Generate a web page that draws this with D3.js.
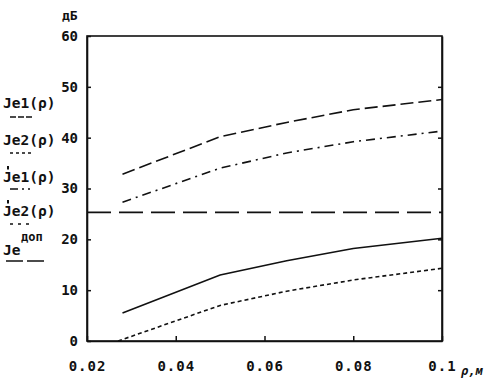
<!DOCTYPE html>
<html><head><meta charset="utf-8">
<script src="https://cdn.jsdelivr.net/npm/d3@7"></script>
<style>body{margin:0;background:#fff}svg{display:block}text{font-family:"DejaVu Sans Mono",monospace;font-weight:bold;fill:#111}</style>
</head><body><div id="c"></div>
<script>
// Data
const xTicks = [0.02, 0.04, 0.06, 0.08, 0.1];
const xTickLabels = ["0.02", "0.04", "0.06", "0.08", "0.1"];
const yTicks = [0, 10, 20, 30, 40, 50, 60];

const xLongDash = [0.028, 0.05, 0.065, 0.08, 0.1];
const yLongDash = [32.8, 40.2, 43.0, 45.5, 47.5];
const xDashDot = [0.028, 0.05, 0.065, 0.08, 0.1];
const yDashDot = [27.3, 34.0, 37.0, 39.2, 41.3];
const xSolid = [0.028, 0.05, 0.065, 0.08, 0.1];
const ySolid = [5.5, 13.0, 15.8, 18.2, 20.2];
const xDotted = [0.027, 0.05, 0.065, 0.08, 0.1];
const yDotted = [0.0, 7.0, 9.8, 12.0, 14.3];
const jeDop = 25.3;

const W = 498, H = 381;
const L = 87, R = 442, T = 36, B = 341;
const svg = d3.select("#c").append("svg").attr("width", W).attr("height", H);
const x = d3.scaleLinear().domain([0.02, 0.1]).range([L, R]);
const y = d3.scaleLinear().domain([0, 60]).range([B, T]);

// frame
svg.append("rect").attr("x", L).attr("y", T).attr("width", R - L).attr("height", B - T)
  .attr("fill", "none").attr("stroke", "#111").attr("stroke-width", 1.6);

// axes with inward ticks
const gL = svg.append("g").attr("transform", `translate(${L},0)`)
  .call(d3.axisLeft(y).tickValues(yTicks).tickSizeInner(-4).tickSizeOuter(0).tickPadding(9));
const gR = svg.append("g").attr("transform", `translate(${R},0)`)
  .call(d3.axisRight(y).tickValues(yTicks.slice(1, -1)).tickSizeInner(-4).tickSizeOuter(0).tickFormat(""));
const gB = svg.append("g").attr("transform", `translate(0,${B})`)
  .call(d3.axisBottom(x).tickValues(xTicks).tickFormat((d, i) => xTickLabels[i]).tickSizeInner(-5).tickSizeOuter(0).tickPadding(20));
[gL, gR, gB].forEach(g => {
  g.select(".domain").attr("stroke", "#111").attr("stroke-width", 1.6);
  g.selectAll(".tick line").attr("stroke", "#111").attr("stroke-width", 1.5);
  g.selectAll("text").attr("font-size", 14).attr("font-family", "DejaVu Sans Mono").attr("font-weight", "bold").attr("fill", "#111");
});
gB.selectAll("text").attr("letter-spacing", 1);

svg.append("text").attr("x", 62).attr("y", 20).attr("font-size", 13).text("дБ");
svg.append("text").attr("x", 461).attr("y", 375).attr("font-size", 12).attr("font-style", "italic").text("ρ,м");

const line = d3.line().x(d => x(d[0])).y(d => y(d[1]));
const mk = (xs, ys) => xs.map((v, i) => [v, ys[i]]);
const draw = (data, dash, w) => svg.append("path").datum(data).attr("d", line)
  .attr("fill", "none").attr("stroke", "#111").attr("stroke-width", w).attr("stroke-dasharray", dash);

draw(mk(xLongDash, yLongDash), "13,5", 1.6);
draw(mk(xDashDot, yDashDot), "9,5,2,5", 1.6);
draw(mk(xSolid, ySolid), null, 1.6);
draw(mk(xDotted, yDotted), "4,3", 1.6);
draw([[0.02, jeDop], [0.1, jeDop]], "24,8", 1.6);

// legend
const lg = svg.append("g");
const items = [
  {main: "Je1(ρ)", prime: false, yb: 108, ly: 117, dash: "6,2", x2: 32},
  {main: "Je2(ρ)", prime: false, yb: 145, ly: 153, dash: "3,3", x2: 33},
  {main: "Je1(ρ)", prime: true, yb: 182, ly: 189, dash: "8,4,2,4", x2: 30},
  {main: "Je2(ρ)", prime: true, yb: 216, ly: 224, dash: "3,5", x2: 33}
];
items.forEach(it => {
  lg.append("text").attr("x", 3).attr("y", it.yb).attr("font-size", 14.5).text(it.main);
  if (it.prime) lg.append("line").attr("x1", 8).attr("x2", 8).attr("y1", it.yb - 16).attr("y2", it.yb - 12.5)
    .attr("stroke", "#111").attr("stroke-width", 2);
  lg.append("line").attr("x1", 10).attr("x2", it.x2).attr("y1", it.ly).attr("y2", it.ly)
    .attr("stroke", "#111").attr("stroke-width", 1.3).attr("stroke-dasharray", it.dash);
});
lg.append("text").attr("x", 3).attr("y", 255).attr("font-size", 14.5).text("Je");
lg.append("text").attr("x", 21).attr("y", 241).attr("font-size", 12).text("доп");
lg.append("line").attr("x1", 6).attr("x2", 47).attr("y1", 261).attr("y2", 261)
  .attr("stroke", "#111").attr("stroke-width", 1.3).attr("stroke-dasharray", "17,4");
</script></body></html>
